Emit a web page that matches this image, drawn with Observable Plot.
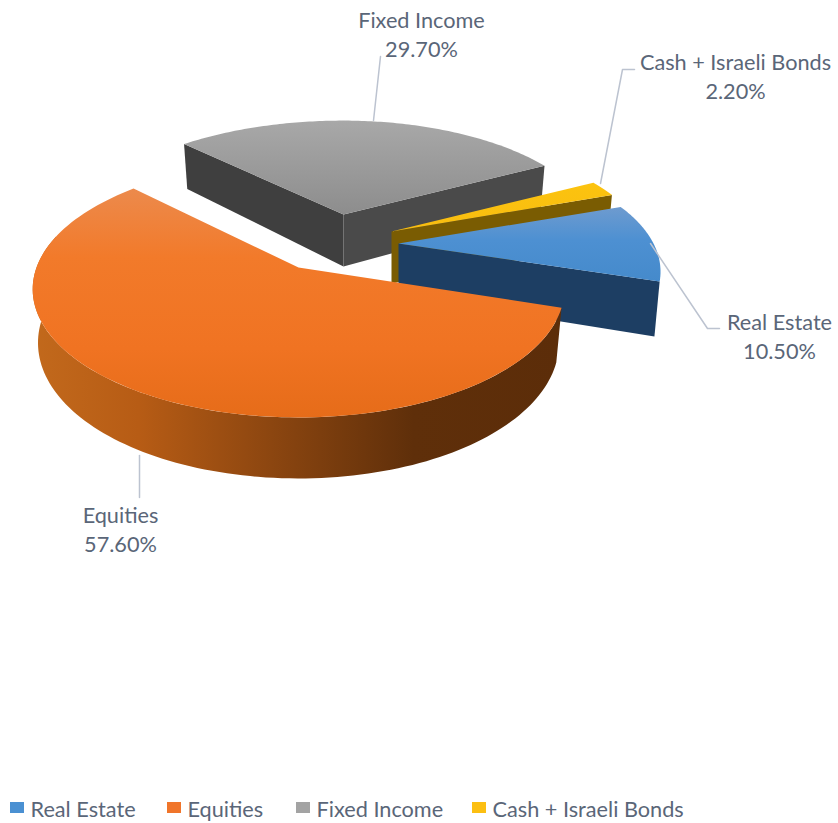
<!DOCTYPE html>
<html>
<head>
<meta charset="utf-8">
<title>Portfolio allocation</title>
<script src="https://cdn.jsdelivr.net/npm/d3@7"></script>
<script src="https://cdn.jsdelivr.net/npm/@observablehq/plot@0.6"></script>
<style>
  html, body { margin: 0; padding: 0; background: #fff; }
</style>
</head>
<body>
<div id="chart"></div>
<script>
// Portfolio shares, in percent, in clockwise drawing order
const categories = ["Real Estate", "Equities", "Fixed Income", "Cash + Israeli Bonds"];
const shares = [10.5, 57.6, 29.7, 2.2];
const swatchColors = ["#4a90d2", "#f0752a", "#a3a3a3", "#fcbf12"];

// Layout of the exploded slices and the tilted-disc projection.
// Each slice sits at its own distance from the viewer, so each has its own radii.
const W = 838, H = 823;
const firstSliceDeg = 70;
const apexes = [[398, 243], [298, 267], [343, 214], [391, 231]];
const radiusLeft = [251, 262, 263, 251];
const radiusRight = [255, 262, 252, 253];
const radiusDepth = [115.5, 124.6, 115.5, 115.5];
const perspective = [0.23, 0.169, 0.23, 0.23];
const baseShrink = 0.98;
const font = "Lato, 'Open Sans', sans-serif";
const fontSize = 21.7;
const textColor = "#5a6678";
const leaderColor = "#bcc3d0";

// Label anchors (baseline of the last line) and leader paths
const labelPos = [[779, 358], [120, 551], [421, 56], [735, 98]];
const labelLeaders = [
  [[650, 243], [707, 328], [719, 328]],
  [[139, 455], [139, 497]],
  [[373, 120], [380, 56]],
  [[600, 183], [622, 69], [634, 69]]
];
const legendX = [10, 167, 296, 472];

// Slice boundaries in degrees, clockwise from the far side of the disc
const bounds = d3.cumsum(shares, s => s * 3.6).map(a => a + firstSliceDeg);
const spans = shares.map((_, i) => [i ? bounds[i - 1] : firstSliceDeg, bounds[i]]);

function rimOffset(i, deg) {
  const t = deg * Math.PI / 180, sx = Math.sin(t), cy = Math.cos(t);
  const w = 1 + perspective[i] * cy;
  const rx = sx < 0 ? radiusLeft[i] : radiusRight[i];
  return {dx: rx * sx / w, dy: -radiusDepth[i] * cy / w, far: cy};
}
const thickness = far => 52 - 12 * far;
function topPoint(i, deg) {
  const o = rimOffset(i, deg);
  return [apexes[i][0] + o.dx, apexes[i][1] + o.dy];
}
function basePoint(i, deg) {
  const o = rimOffset(i, deg);
  return [apexes[i][0] + o.dx * baseShrink, apexes[i][1] + o.dy * baseShrink + thickness(o.far)];
}
const angles = (a, b) => d3.range(0, 121).map(k => a + (b - a) * k / 120);
const topFace = i => [apexes[i], ...angles(...spans[i]).map(a => topPoint(i, a))];
const apexBase = i => [apexes[i][0], apexes[i][1] + 52];
const cutWall = (i, deg) => [apexes[i], topPoint(i, deg), basePoint(i, deg), apexBase(i)];
const rimWall = (i, a, b) => [
  ...angles(a, b).map(d => topPoint(i, d)),
  ...angles(a, b).reverse().map(d => basePoint(i, d))
];

const poly = (points, fill) => Plot.line(points, {x: d => d[0], y: d => d[1], fill, stroke: "none"});

// Shading used by the top faces and the curved wall
function gradient(defs, id, stops, horizontal) {
  const g = defs.append("linearGradient").attr("id", id)
    .attr("x1", 0).attr("y1", 0).attr("x2", horizontal ? 1 : 0).attr("y2", horizontal ? 0 : 1);
  for (const [offset, color] of stops) g.append("stop").attr("offset", offset).attr("stop-color", color);
}
const shading = () => {
  const defs = d3.create("svg:defs");
  gradient(defs, "topBlue", [[0, "#6e9bcf"], [0.45, "#4d90d2"], [1, "#458acb"]]);
  gradient(defs, "topOrange", [[0, "#ec8a4c"], [0.3, "#f27a2a"], [0.7, "#f07322"], [1, "#e66c19"]]);
  gradient(defs, "topGrey", [[0, "#a8a8a8"], [1, "#8d8d8d"]]);
  gradient(defs, "topGold", [[0, "#fcc30f"], [1, "#f8bd10"]]);
  gradient(defs, "wallOrange", [[0, "#c2691c"], [0.2, "#b75c15"], [0.45, "#8c4610"], [0.72, "#5f2f0a"], [1, "#5c2d09"]], true);
  return defs.node();
};

const swatchWidth = 14;
const rows = categories.map((name, i) => ({
  name,
  share: shares[i],
  text: `${name}\n${d3.format(".2f")(shares[i])}%`,
  lx: labelPos[i][0], ly: labelPos[i][1],
  sx: legendX[i],
  color: swatchColors[i]
}));

const chart = Plot.plot({
  width: W, height: H,
  margin: 0,
  x: {domain: [0, W], range: [0, W], axis: null},
  y: {domain: [0, H], range: [0, H], axis: null},
  style: {background: "#fff"},
  marks: [
    shading,
    // Fixed Income
    poly(cutWall(2, spans[2][0]), "#3f3f3f"),
    poly(cutWall(2, spans[2][1]), "#4a4a4a"),
    poly(topFace(2), "url(#topGrey)"),
    // Cash + Israeli Bonds
    poly(cutWall(3, spans[3][1]), "#7a5c02"),
    poly(topFace(3), "url(#topGold)"),
    // Real Estate
    poly(cutWall(0, spans[0][1]), "#1d3e63"),
    poly(topFace(0), "url(#topBlue)"),
    // Equities
    poly(rimWall(1, spans[1][0], 285), "url(#wallOrange)"),
    poly(topFace(1), "url(#topOrange)"),
    // Leader lines
    ...labelLeaders.map(path => Plot.line(path, {
      x: d => d[0], y: d => d[1], stroke: leaderColor, strokeWidth: 1.5
    })),
    // Data labels
    Plot.text(rows, {
      x: "lx", y: "ly", text: "text",
      lineAnchor: "bottom", lineHeight: 1.33,
      fontFamily: font, fontSize, fill: textColor, textAnchor: "middle"
    }),
    // Legend
    Plot.rect(rows, {
      x1: "sx", x2: d => d.sx + swatchWidth,
      y1: () => 802, y2: () => 813,
      fill: "color"
    }),
    Plot.text(rows, {
      x: d => d.sx + swatchWidth + 6, y: () => 816, text: "name",
      lineAnchor: "bottom",
      fontFamily: font, fontSize, fill: textColor, textAnchor: "start"
    })
  ]
});
document.getElementById("chart").append(chart);
</script>
</body>
</html>
